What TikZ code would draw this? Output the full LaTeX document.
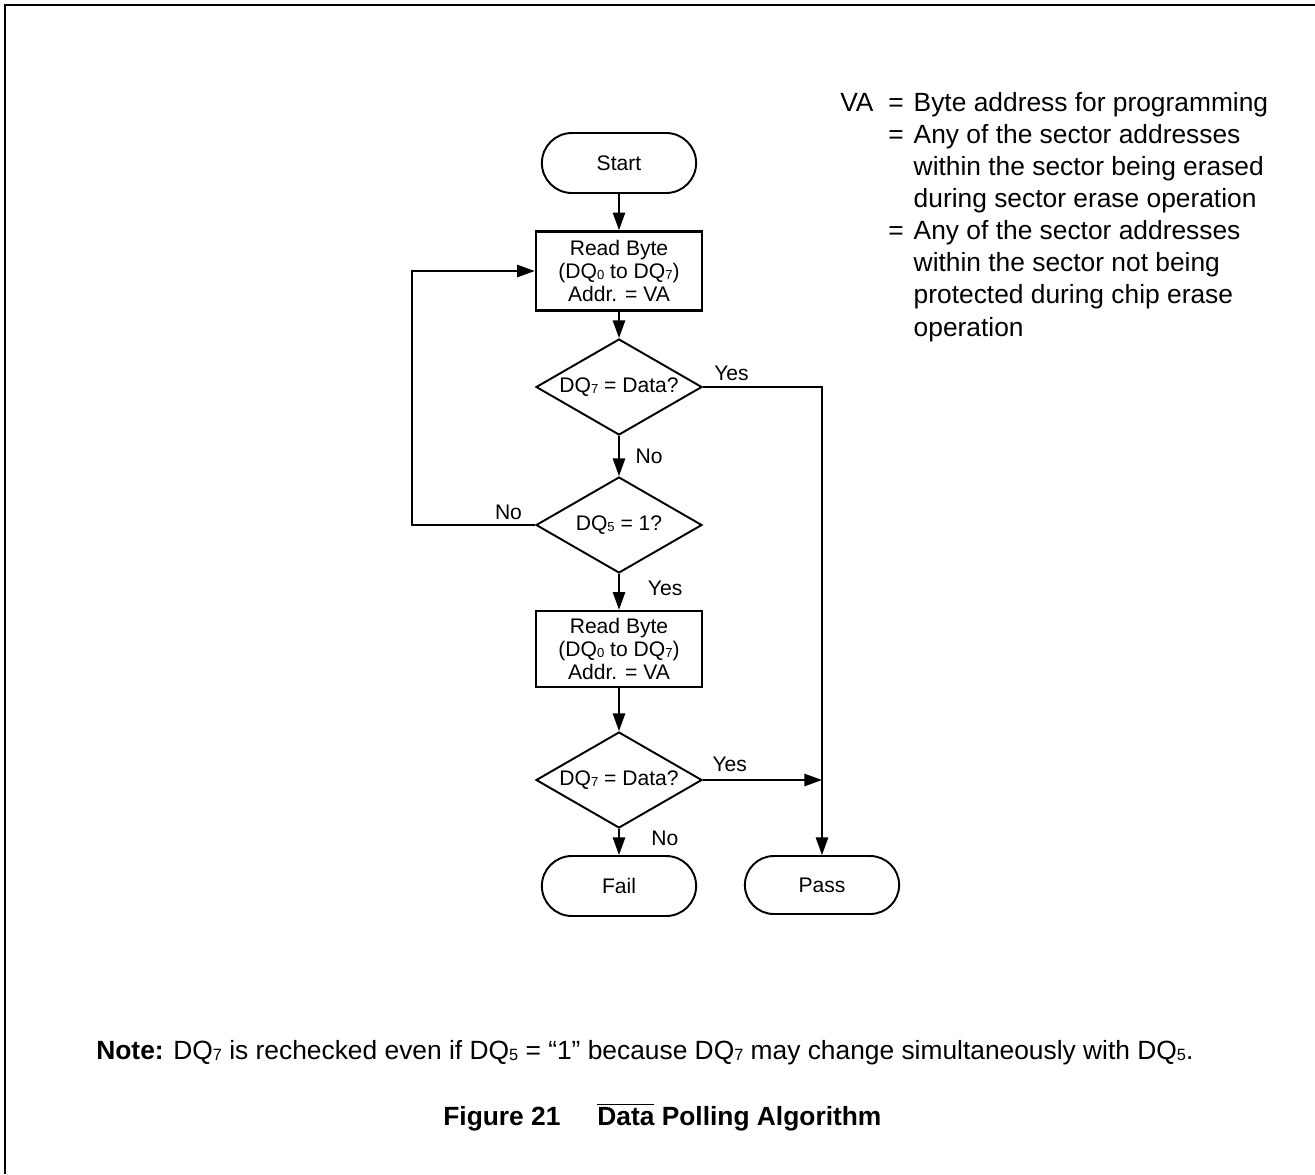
\documentclass[tikz,border=0pt]{standalone}
\usepackage{fontspec}
\usepackage{graphicx}
\setmainfont{Liberation Sans}
\usetikzlibrary{arrows.meta}
\usetikzlibrary{shapes.geometric}
\usetikzlibrary{shapes.misc}
\newcommand{\nodefont}{\fontsize{12}{13.3}\selectfont}
\newcommand{\bigfont}{\fontsize{15}{18.3}\selectfont}
\newcommand{\lo}[1]{\raisebox{-0.1ex}{\scalebox{0.62}{#1}}}
\tikzset{term/.style = {draw, rounded rectangle, line width = 1.1pt, minimum width = 3.32cm, minimum height = 1.2cm, font = \nodefont}}
\tikzset{proc/.style = {draw, rectangle, line width = 1.5pt, minimum width = 3.32cm, minimum height = 1.58cm, align = center, font = \nodefont}}
\tikzset{dec/.style = {draw, diamond, aspect = 1.7, inner sep = 0, line width = 1.1pt, minimum width = 3.32cm, minimum height = 1.92cm, font = \nodefont}}
\tikzset{lbl/.style = {inner sep = 0, font = \nodefont}}
\tikzset{arr/.style = {line width = 0.9pt, -{Triangle[length = 10pt, width = 7pt]}}}

\begin{document}
\begin{tikzpicture}[x = 0.02cm, y = -0.02cm]
    \useasboundingbox (0, 0) rectangle (1315, 1174);
    \draw [line width = 1pt] (5, 1174) -- (5, 5) -- (1315, 5);

    \node [term] (start) at (619, 163) {Start};
    \node [proc] (read1) at (619, 271) {Read Byte\\(DQ\lo{0} to DQ\lo{7})\\Addr. = VA};
    \node [dec] (test1) at (619, 387) {DQ\lo{7} = Data?};
    \node [dec] (test5) at (619, 525) {DQ\lo{5} = 1?};
    \node [proc, minimum height = 1.52cm] (read2) at (619, 649) {Read Byte\\(DQ\lo{0} to DQ\lo{7})\\Addr. = VA};
    \node [dec] (test2) at (619, 780) {DQ\lo{7} = Data?};
    \node [term] (fail) at (619, 886) {Fail};
    \node [term, minimum height = 1.16cm] (pass) at (822, 885) {Pass};
    \coordinate (loop) at (412, 0);

    \draw [arr] (start) -- (read1);
    \draw [arr] (read1) -- (test1);
    \draw [arr] (test1) -- node [lbl, right = 9pt] {No} (test5);
    \draw [arr] (test5) -- node [lbl, right = 16pt, yshift = 2pt] {Yes} (read2);
    \draw [arr] (read2) -- (test2);
    \draw [arr] (test2) -- node [lbl, right = 18pt, yshift = 2pt] {No} (fail);

    \draw [arr] (test1.east) -| node [lbl, pos = 0, anchor = south west, xshift = 6pt, yshift = 3pt] {Yes} (pass.north);
    \draw [arr] (test2.east) -- node [lbl, pos = 0, anchor = south west, xshift = 5pt, yshift = 4.5pt] {Yes} (test2.east -| pass.north);
    \draw [arr] (test5.west) -- node [lbl, pos = 0, anchor = south east, xshift = -7pt, yshift = 2.5pt] {No} (test5.west -| loop) |- (read1.west);

    % legend
    \node [anchor = base west, inner sep = 0] (legend) at (840, 111) {\bigfont
      \begin{tabular}[t]{@{}p{0.96cm}@{}l@{\hspace{0.2cm}}l@{}}
        VA & = & Byte address for programming\\
           & = & Any of the sector addresses\\
           &   & within the sector being erased\\
           &   & during sector erase operation\\
           & = & Any of the sector addresses\\
           &   & within the sector not being\\
           &   & protected during chip erase\\
           &   & operation
      \end{tabular}};

    \node [anchor = base west, inner sep = 0] (note) at (96, 1059) {\bigfont\textbf{Note:} DQ\lo{7} is rechecked even if DQ\lo{5} = ``1'' because DQ\lo{7} may change simultaneously with DQ\lo{5}.};
    \node [anchor = base west, inner sep = 0] (fignum) at (443, 1125) {\bigfont\bfseries Figure 21};
    \node [anchor = base west, inner sep = 0] (figtitle) at (597, 1125) {\bigfont\bfseries $\overline{\mbox{Data}}$ Polling Algorithm};
\end{tikzpicture}
\end{document}
